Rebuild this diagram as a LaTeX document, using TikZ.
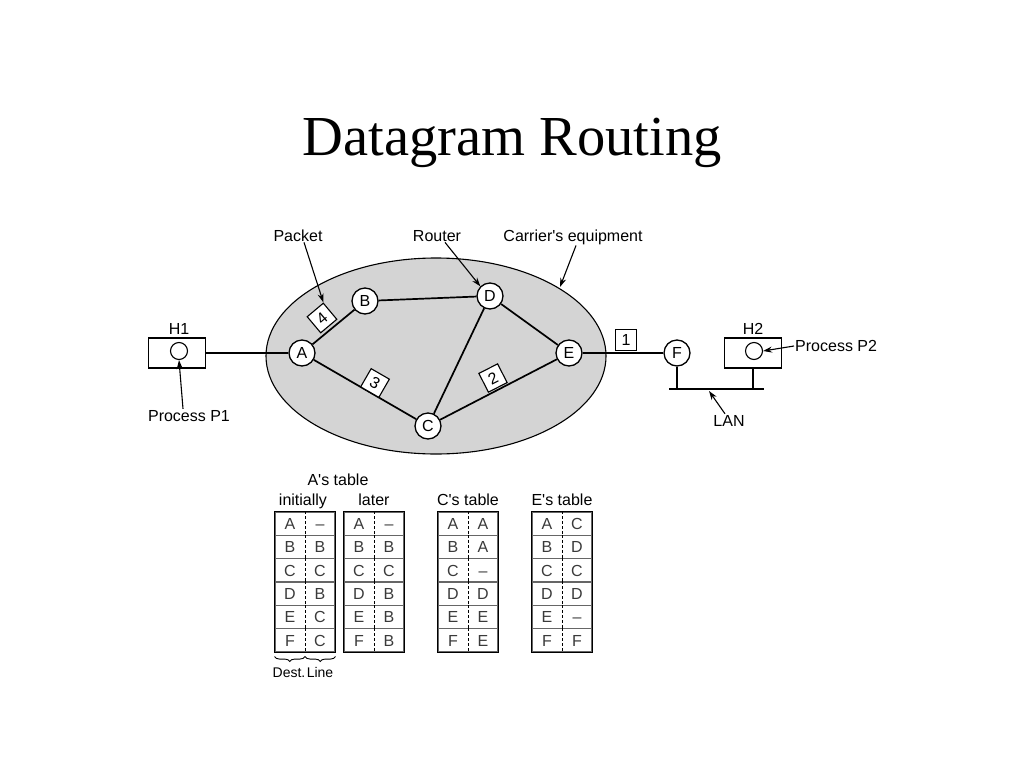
\documentclass[tikz,border=0pt]{standalone}
\usepackage{fontspec}
\setmainfont{Liberation Serif}
\newfontfamily\arialf{Liberation Sans}
\usetikzlibrary{arrows.meta,decorations.pathreplacing,shapes.geometric}
\definecolor{cloud}{HTML}{D4D4D4}
\definecolor{txtgray}{HTML}{3A3A3A}
\begin{document}
\begin{tikzpicture}[x=1pt,y=-1pt,
  every node/.style={font=\arialf\fontsize{16}{18}\selectfont},
  router/.style={circle,draw,fill=white,line width=1.3pt,minimum size=26pt,inner sep=0pt},
  pkt/.style={draw,fill=white,line width=1.1pt,minimum size=21pt,inner sep=0pt},
  host/.style={draw,line width=1.1pt,minimum width=57pt,minimum height=30pt,inner sep=0pt},
  proc/.style={circle,draw,line width=1.1pt,minimum size=17pt,inner sep=0pt},
  link/.style={line width=1.7pt},
  lbl/.style={inner sep=1pt},
  pointer/.style={line width=1.1pt,-{Stealth[length=9pt,width=6pt]}},
  rowbox/.style={draw=gray!80!black,line width=1.1pt,minimum width=60pt,minimum height=23.33pt,inner sep=0pt},
  cell/.style={text=txtgray,inner sep=0pt,text height=11.5pt,text depth=0pt},
  tabline/.style={line width=1.2pt}]
\useasboundingbox (0,0) rectangle (1024,768);

% title
\node[anchor=base,font=\fontsize{56.5}{60}\selectfont] (title) at (512,155) {Datagram Routing};

% carrier cloud
\node[ellipse,draw,fill=cloud,line width=1.1pt,minimum width=340pt,minimum height=196pt,inner sep=0pt] (cloud) at (436,356) {};

% routers
\node[router] (A) at (302,353) {A};
\node[router] (B) at (365,301) {B};
\node[router] (D) at (490,296) {D};
\node[router] (E) at (569,353) {E};
\node[router] (C) at (428,426) {C};
\node[router] (F) at (677,353) {F};

% links
\draw[link] (A) -- (B);
\draw[link] (B) -- (D);
\draw[link] (A) -- (C);
\draw[link] (D) -- (C);
\draw[link] (C) -- (E);
\draw[link] (D) -- (E);
\draw[link] (E) -- (F);

% hosts
\node[host] (H1) at (177,353) {};
\node[proc] (P1) at (179,351) {};
\node[lbl,anchor=base] (H1l) at (179,334) {H1};
\draw[link] (H1.east) -- (A);

\node[host] (H2) at (753,353) {};
\node[proc] (P2) at (754,351) {};
\node[lbl,anchor=base] (H2l) at (753,334) {H2};

% LAN
\coordinate (lanL) at (669,389);
\coordinate (lanR) at (764,389);
\draw[link] (lanL) -- (lanR);
\coordinate (fB) at (677,389);
\coordinate (hB) at (753,389);
\draw[link] (F.south) -- (fB);
\draw[link] (H2.south) -- (hB);

% packets
\node[pkt,rotate=40] (p4) at (322,318) {4};
\node[pkt,rotate=-30] (p3) at (375,383) {3};
\node[pkt,rotate=27] (p2) at (493,378) {2};
\node[pkt] (p1) at (626,340) {1};

% labels with pointers
\node[lbl,anchor=base] (lpacket) at (298,241) {Packet};
\draw[pointer] ([xshift=6pt]lpacket.south) -- (p4.north east);
\node[lbl,anchor=base] (lrouter) at (437,241) {Router};
\draw[pointer] ([xshift=8pt]lrouter.south) -- (D.north west);
\node[lbl,anchor=base] (lcarrier) at (573,241) {Carrier's equipment};
\coordinate (cedge) at (560,287);
\draw[pointer] ([xshift=3pt]lcarrier.south) -- (cedge);
\node[lbl,anchor=base] (lp1) at (189,421) {Process P1};
\draw[pointer] ([xshift=-6pt]lp1.north) -- (P1.south);
\node[lbl,anchor=west] (lp2) at (794,346) {Process P2};
\draw[pointer] (lp2.west) -- (P2.east);
\node[lbl,anchor=base] (llan) at (729,426) {LAN};
\coordinate (lanpt) at (709,391);
\draw[pointer] ([xshift=-4pt]llan.north) -- (lanpt);

% tables
\node[lbl,anchor=base] (tA) at (338,485) {A's table};
\node[lbl,anchor=base] (tAi) at (303,505) {initially};
\node[lbl,anchor=base] (tAl) at (374,505) {later};
\node[lbl,anchor=base] (tC) at (468,505) {C's table};
\node[lbl,anchor=base] (tE) at (562,505) {E's table};

\foreach \tab/\xl/\entries in {
  ai/275/{A/\textendash,B/B,C/C,D/B,E/C,F/C},
  al/344/{A/\textendash,B/B,C/C,D/B,E/B,F/B},
  ct/438/{A/A,B/A,C/\textendash,D/D,E/E,F/E},
  et/532/{A/C,B/D,C/C,D/D,E/\textendash,F/F}}{
  \foreach \d/\l [count=\i] in \entries {
    \node[rowbox] (\tab-\i) at (\xl+30,{512+11.667+23.333*(\i-1)}) {};
    \draw[line width=1pt,dash pattern=on 3pt off 2pt] (\tab-\i.north) -- (\tab-\i.south);
    \node[cell] (\tab-\i-d) at ([xshift=-15pt]\tab-\i.center) {\d};
    \node[cell] (\tab-\i-l) at ([xshift=15pt]\tab-\i.center) {\l};
  }
  \draw[tabline] (\tab-1.north west) rectangle (\tab-6.south east);
}

% braces
\draw[line width=0.9pt,decorate,decoration={brace,mirror,amplitude=5pt}] ([yshift=-4pt]ai-6.south west) -- ([yshift=-4pt]ai-6.south);
\draw[line width=0.9pt,decorate,decoration={brace,mirror,amplitude=5pt}] ([yshift=-4pt]ai-6.south) -- ([yshift=-4pt]ai-6.south east);
\node[lbl,anchor=base,font=\arialf\fontsize{14}{16}\selectfont] (ldest) at (289,677) {Dest.};
\node[lbl,anchor=base,font=\arialf\fontsize{14}{16}\selectfont] (lline) at (320,677) {Line};
\end{tikzpicture}
\end{document}
